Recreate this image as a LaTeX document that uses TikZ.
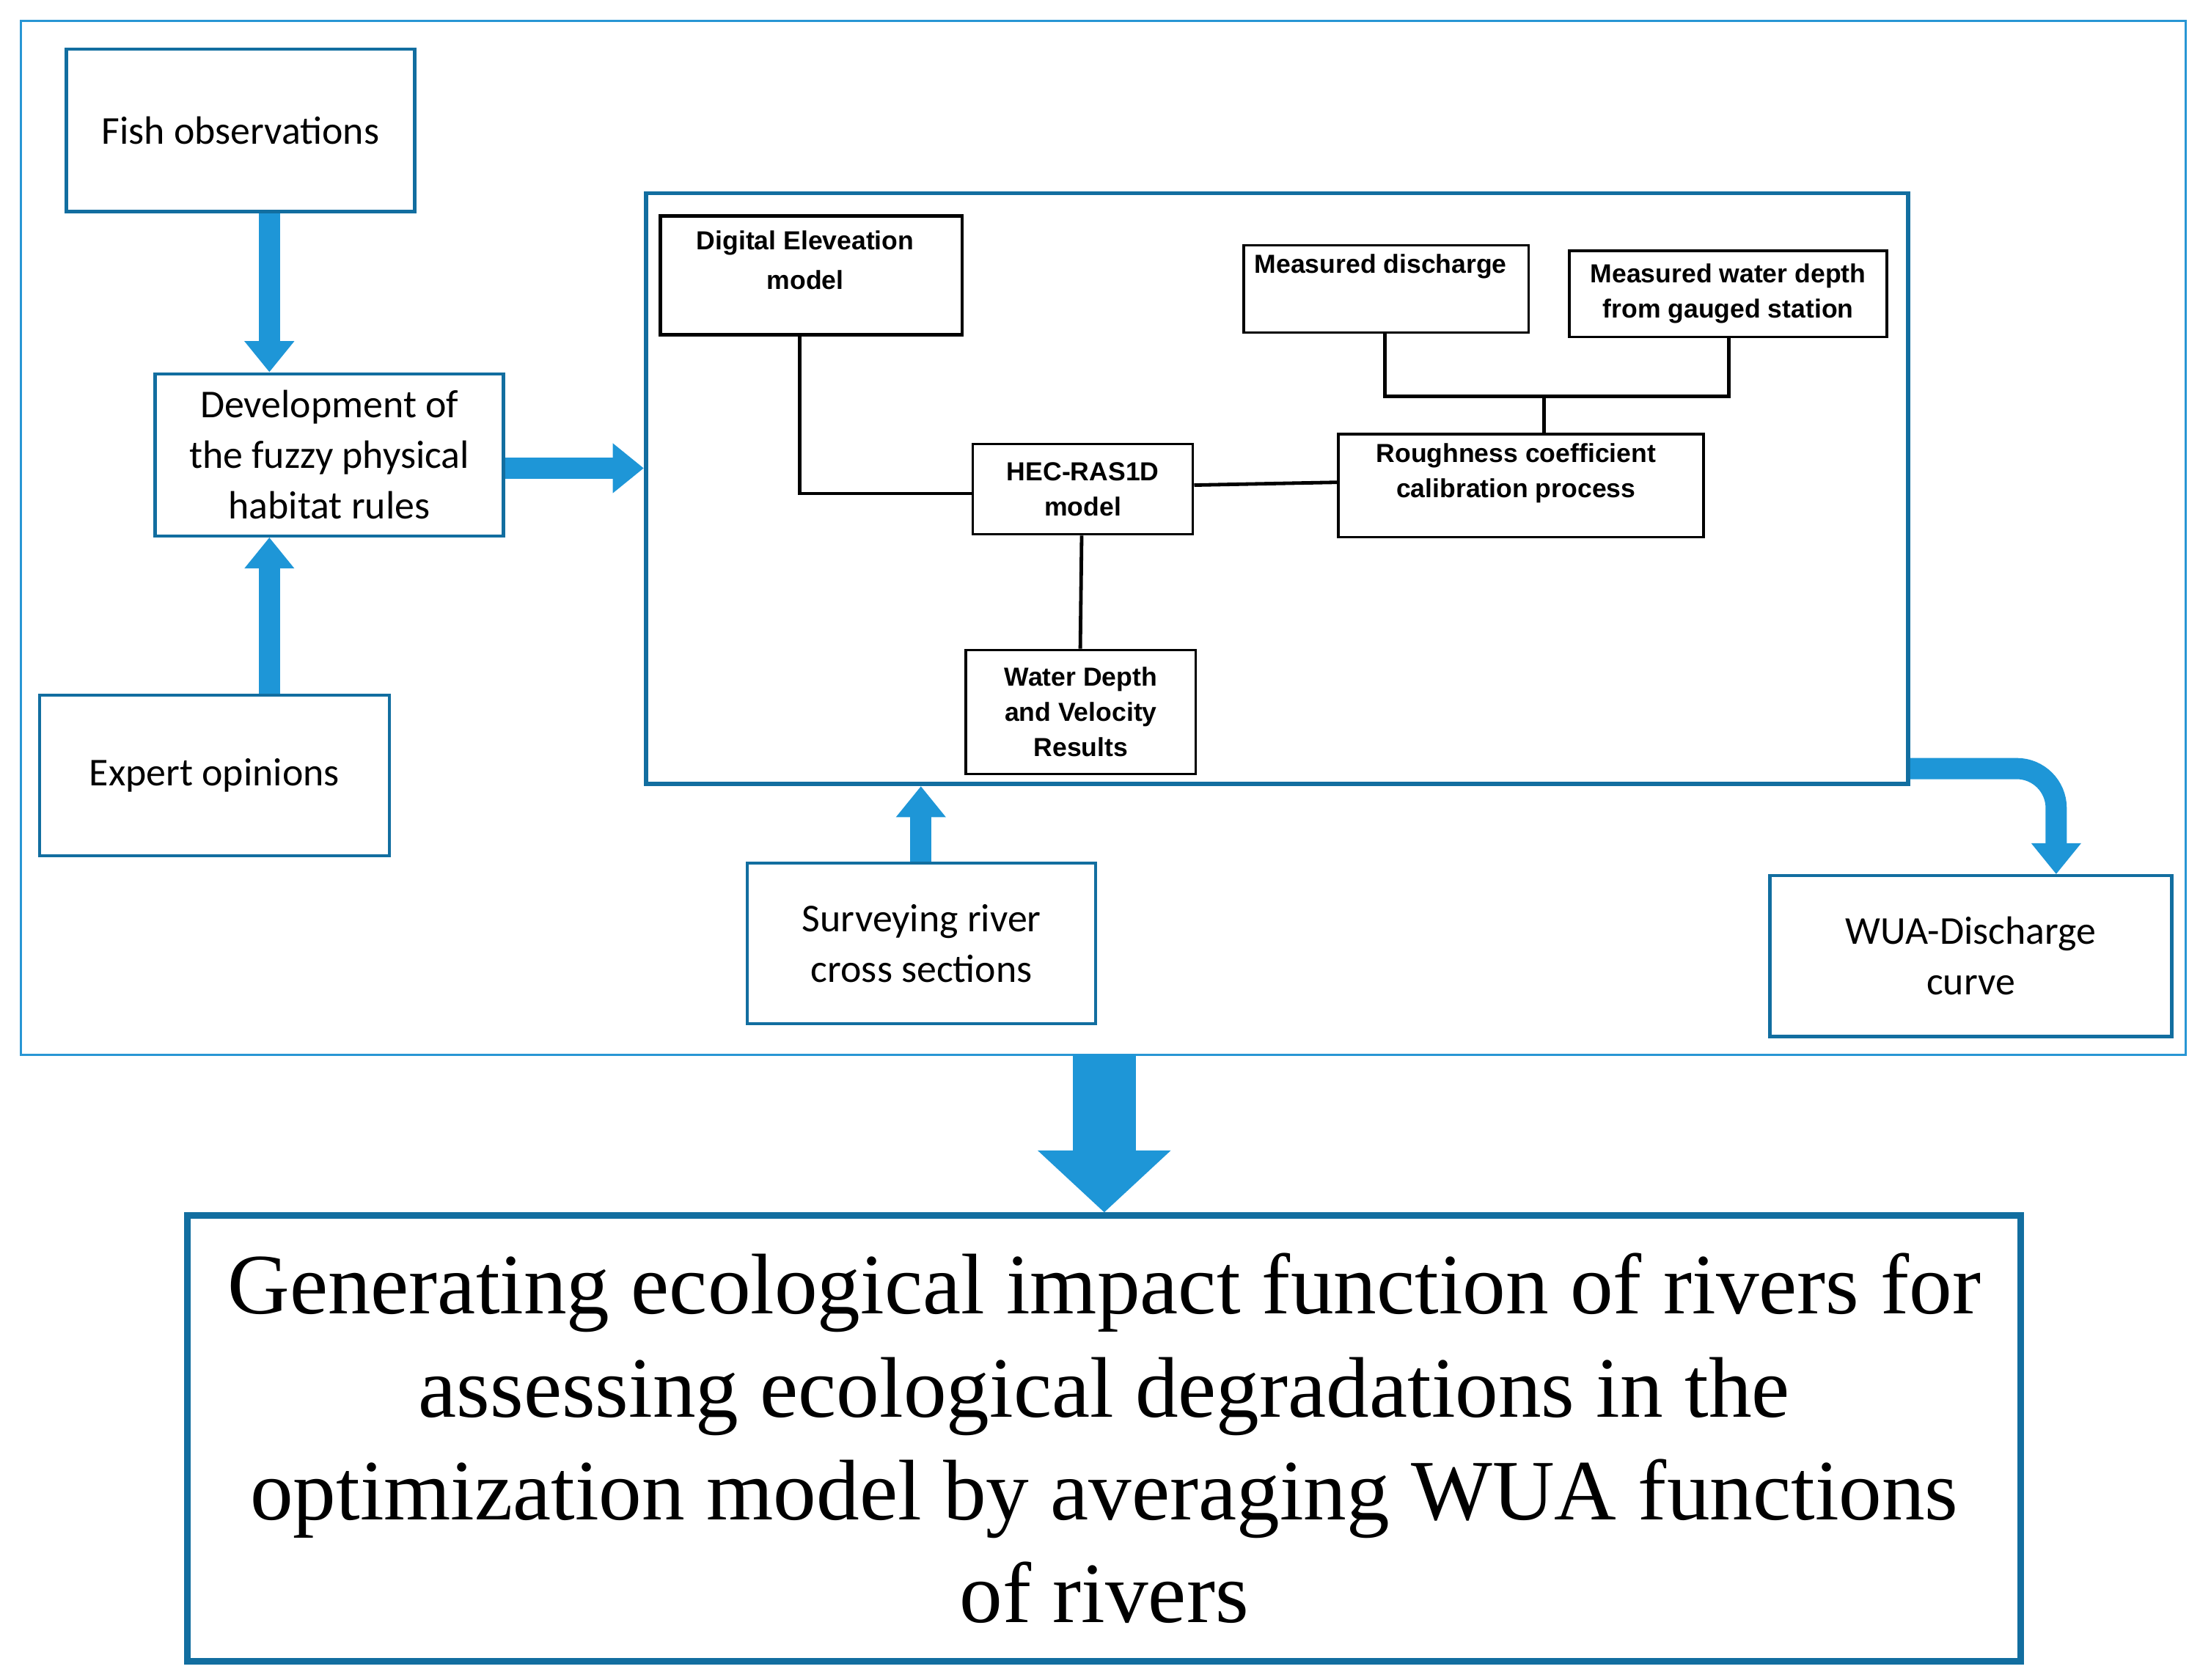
\documentclass[tikz,border=0pt]{standalone}
\usepackage{fontspec}
\setmainfont{Liberation Serif}
\newfontfamily\myCal{Carlito}
\newfontfamily\myArs{Liberation Sans}
\usetikzlibrary{arrows.meta}
\definecolor{lb}{RGB}{40,150,212}
\definecolor{ab}{RGB}{30,150,215}
\definecolor{db}{RGB}{18,110,160}
\begin{document}
\begin{tikzpicture}[x=1pt,y=-1pt,
 ob/.style={draw=db,line width=2.2pt,align=center,font=\myCal\fontsize{28}{36}\selectfont,inner sep=0pt},
 ib/.style={draw=black,line width=1.8pt,align=center,font=\myArs\bfseries\fontsize{18.5}{25}\selectfont,inner sep=0pt},
 it/.style={font=\myArs\bfseries\fontsize{18.5}{25}\selectfont,align=center,anchor=north},
 fat/.style={ab,line width=15pt,-{Triangle[width=34pt,length=22pt]}},
 ln/.style={black,line width=2.5pt}]
\useasboundingbox (0,0) rectangle (1560,1191);
\draw[lb,line width=1.5pt] (15,15) rectangle (1550,748);
\node[ob,minimum width=247pt,minimum height=115pt] (fish) at (170.5,92.5) {Fish observations};
\node[ob,minimum width=247pt,minimum height=115pt] (dev) at (233.5,322.5) {Development of\\the fuzzy physical\\habitat rules};
\node[ob,minimum width=248pt,minimum height=114pt] (exp) at (152,550) {Expert opinions};
\node[draw=db,line width=3pt,minimum width=895pt,minimum height=419pt,inner sep=0pt] (inner) at (905.5,346.5) {};
\node[ob,minimum width=247pt,minimum height=114pt] (surv) at (653.5,669) {Surveying river\\cross sections};
\node[ob,minimum width=285pt,minimum height=114pt] (wua) at (1397.5,678) {WUA-Discharge\\curve};
\node[ib,minimum width=214pt,minimum height=84pt,anchor=north west,line width=2.5pt] (dem) at (467,152) {};
\node[it,font=\myArs\bfseries\fontsize{18.5}{28}\selectfont] at (571,160) {Digital Eleveation\\model};
\node[ib,minimum width=202pt,minimum height=62pt,anchor=north west] (md) at (881,173) {};
\node[it] at (979,177) {Measured discharge};
\node[ib,minimum width=225pt,minimum height=61pt,anchor=north west] (mw) at (1112,177) {Measured water depth\\from gauged station};
\node[ib,minimum width=156pt,minimum height=64pt,anchor=north west] (hec) at (689,314) {HEC-RAS1D\\model};
\node[ib,minimum width=259pt,minimum height=73pt,anchor=north west] (rc) at (948,307) {};
\node[it] at (1075,311) {Roughness coefficient\\calibration process};
\node[ib,minimum width=163pt,minimum height=88pt,anchor=north west] (wd) at (684,460) {Water Depth\\and Velocity\\Results};
\node[draw=db,line width=4.5pt,minimum width=1300pt,minimum height=316pt,inner sep=0pt,align=center,font=\fontsize{61}{73}\selectfont] (gen) at (783,1020) {Generating ecological impact function of rivers for\\assessing ecological degradations in the\\optimization model by averaging WUA functions\\of rivers};
\draw[ln] (dem.south -| 567,0) |- (hec.west |- 0,350);
\draw[ln] (hec.east |- 0,344) -- (rc.west |- 0,342);
\draw[ln] (hec.south -| 767,0) -- (wd.north -| 766,0);
\coordinate (j) at (1095,281);
\draw[ln] (md.south -| 982,0) |- (j) -| (mw.south -| 1226,0);
\draw[ln] (j) -- (rc.north -| 1095,0);
\draw[fat] (fish.south -| 191,0) -- (dev.north -| 191,0);
\draw[fat] (exp.north -| 191,0) -- (dev.south -| 191,0);
\draw[fat] (dev.east |- 0,332) -- (inner.west |- 0,332);
\draw[fat] (surv.north -| 653,0) -- (inner.south -| 653,0);
\draw[fat,rounded corners=28pt] (inner.east |- 0,545) -| (wua.north -| 1458,0);
\draw[ab,line width=45pt,-{Triangle[width=92pt,length=44pt]}] (783,748) -- (gen.north -| 783,0);
\end{tikzpicture}
\end{document}
